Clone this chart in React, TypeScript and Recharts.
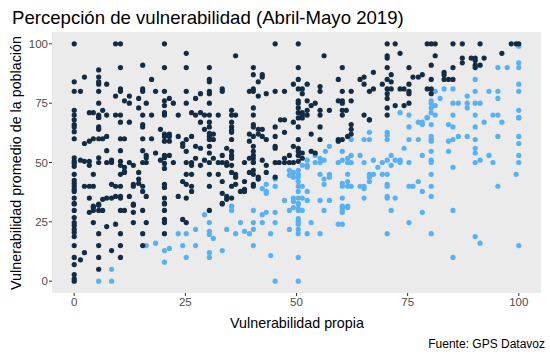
import { ScatterChart, Scatter, XAxis, YAxis } from 'recharts';

type Pt = [number, number];

// puntos donde la percepcion de la poblacion >= propia (azul oscuro)
const above: Pt[] = [
  [0,100],[9.3,100],[10.4,100],[20.3,100],[10.4,90],[15.4,91],[20.3,90],[5.5,89],[2.3,86],[5.5,86],[5.5,84],[5.5,83],[7.3,83],[0,84],[17.4,85],[0,80],[1.4,80],[5.5,80],[10.4,81],[10.4,80],[15.4,81],[15.4,80],[18.3,80],[20.3,80],[9.3,78],[12.4,78],[11.3,76],[12.4,75],[14.5,77],[16.2,75],[21.4,77],[22.3,75],[20.3,76],[20.3,74],[5.5,75],[14.5,73],[6.4,72],[0,72],[0,70],[3.4,71],[4.3,71],[5.5,70],[5.5,69],[7.3,70],[9.3,70],[10.4,70],[15.4,70],[17.4,70],[20.3,71],[20.3,70],
  [45.2,100],[25.2,96],[36.3,95],[25.2,90],[30.4,90],[40.3,90],[40.3,87],[42.3,87],[42.3,86],[30.4,85],[30.4,84],[41.4,84],[49.3,83],[25.2,80],[28.4,79],[30.4,80],[30.4,79],[33.3,81],[33.3,80],[39.4,80],[40.3,81],[40.3,80],[43.2,79],[41.4,78],[45.2,80],[47.3,80],[27.3,77],[25.2,75],[30.4,75],[35.4,72],[40.3,73],[23.4,70],[26.4,71],[27.3,70],[28.4,71],[29.3,70],[30.4,70],[32.4,70],[35.4,70],[36.3,70],[40.3,70],[46.4,68],
  [50.4,100],[70.4,100],[72.2,100],[73.3,96],[56.2,95],[70.4,95],[70.4,94],[50.4,90],[60.3,90],[70.4,90],[75.3,90],[67.3,88],[50.4,85],[59.4,85],[64.3,85],[65.2,86],[71.3,87],[70.4,85],[71.3,84],[76.2,86],[65.2,83],[69.3,83],[75.3,83],[52.4,83],[50.4,81],[51.3,81],[51.3,79],[55.3,82],[55.3,80],[60.3,80],[62.3,80],[66.4,80],[67.3,81],[70.4,81],[70.4,79],[70.4,77],[71.3,81],[73.3,81],[74.2,81],[75.3,80],[75.3,79],[50.4,76],[50.4,75],[52.4,76],[53.3,74],[54.2,75],[59.4,76],[60.3,76],[60.3,75],[62.3,76],[72.2,74],[74.2,74],[75.3,75],[50.4,73],[50.4,71],[51.3,71],[51.3,70],[52.4,72],[52.4,70],[55.3,72],[55.3,70],[57.4,72],[60.3,72],[61.2,72],[60.3,70],[65.2,70],[66.4,68],[70.4,73],[70.4,70],
  [79.4,100],[80.3,100],[81.2,100],[85.2,100],[87.3,100],[91.3,100],[98.3,100],[99.4,100],[100,100],[81.2,95],[96.2,96],[87.3,94],[87.3,92],[89.3,94],[90.2,94],[90.2,93],[92.2,94],[90.2,91],[90.2,90],[91.3,91],[80.3,91],[85.2,90],[77.4,86],[78.3,87],[83.2,88],[83.2,87],[80.3,85],[83.2,85],[84.2,85],[85.2,85],[79.4,81],[80.3,81],[80.3,79],
  [0,68],[0,66],[0,65],[0,63],[0,60],[5.5,69],[5.5,65],[5.5,64],[10.4,67],[12.4,67],[15.4,66],[15.4,65],[19.4,64],[20.3,62],[21.4,62],[20.3,61],[21.4,61],[20.3,59],[21.4,59],[2.3,58],[3.4,59],[4.3,60],[5.5,60],[6.4,60],[7.3,61],[10.4,60],[11.3,60],[15.4,60],[17.4,60],[7.3,55],[10.4,55],[15.4,55],[18.3,54],[0,52],[0,50.5],[0,49.6],[0,48.4],[1.4,51],[2.3,50.5],[3.4,50.5],[3.4,48.8],[5.5,52],[5.5,50],[7.3,50],[8.4,51],[8.4,50],[10.4,50.5],[10.4,48.8],[11.3,48],[11.3,46.3],[12.4,50],[13.3,48.8],[15.4,50],[16.2,50],[16.2,53],[16.2,52],[19.4,51],[20.3,53],[21.4,53],[20.3,52],[20.3,49.6],[20.3,47.5],[22.3,50],[0,45],[0,42.5],[0,41.2],[0,40],[0,38.7],[0,37.8],[4.3,45],[10.4,45],[11.3,45.8],[14.5,45.8],[14.5,43],[14.5,41.2],[15.4,40],[15.4,37.8],[13.3,40],[13.3,40.8],[16.2,35.7],[2.3,40],[3.4,40],[4.3,40],[8.4,40.8],[9.3,40],[10.4,40],[20.3,40.8],[20.3,39.5],[3.4,35],[6.4,34.5],[7.3,35],[8.4,35],[9.3,35.7],[10.4,35.7],[10.4,35],[12.4,35.7],[13.3,32],[5.5,32],[4.3,31.6],[0,35],[0,32.8],[20.3,35],[20.3,32.8],
  [28.4,67],[30.4,67],[30.4,65],[35.4,67],[35.4,65],[35.4,63.6],[35.4,62.7],[40.3,66],[40.3,65],[29.3,64],[45.2,65],[47.3,68],[49.3,67],[23.4,61],[26.4,61],[30.4,62.3],[30.4,61],[31.3,62],[30.4,59.7],[31.3,59.7],[35.4,59.7],[39.4,62],[40.3,61],[39.4,59],[41.4,62],[42.3,64],[42.3,61],[43.2,59.7],[41.4,64],[45.2,61],[47.3,62.7],[24.4,58],[24.4,56.8],[25.2,59.7],[25.2,54.7],[27.3,56.8],[28.4,56],[30.4,56.8],[30.4,54],[33.3,53],[34.3,56],[35.4,54.7],[35.4,53],[35.4,51.8],[40.3,56.8],[40.3,54.7],[40.3,53],[40.3,51.8],[40.3,50],[45.2,56.8],[45.2,56],[49.3,56.8],[48.4,53],[27.3,51.8],[25.2,50],[26.4,50],[26.4,48.8],[28.4,48.8],[29.3,51],[30.4,50],[31.3,51.8],[32.4,50],[33.3,50],[34.3,50],[34.3,48.8],[35.4,48.8],[38.3,50],[39.4,51.8],[40.3,50.1],[42.3,51],[43.2,48.8],[45.2,50],[46.1,50],[47.3,50],[47.3,51.8],[48.4,50],[49.3,50],[25.2,45],[26.4,45],[30.4,45],[32.4,45],[35.4,45.8],[36.3,45],[36.3,43.8],[39.4,45.8],[40.3,46.7],[40.3,45],[41.4,43.8],[41.4,43],[43.2,45.8],[45.2,43.8],[24.4,42],[25.2,40.8],[26.4,40],[26.4,37.8],[33.3,42],[30.4,40],[35.4,40],[36.3,40.8],[38.3,42],[37.4,37.8],[38.3,38.7],[38.3,37.8],[40.3,40.8],[40.3,40],[33.3,37],[34.3,35.7],[34.3,34.5],[35.4,35],[33.3,32.8],[23.4,35.7],[25.2,35],
  [50.4,68.8],[51.3,68.8],[50.4,65],[55.3,65],[62.3,66],[62.3,64],[66.4,68],[53.3,62],[50.4,59.7],[55.3,59.7],[59.4,59.7],[59.4,59],[60.3,59.7],[61.5,61],[62.3,62],[50.4,56],[50.4,54.7],[51.3,54],[50.4,53],[51.3,51.8],[50.4,50.5],[53.3,54.7],[54.2,54],
  [0,32.5],[0,29.8],[0,26.8],[0,24.7],[0,23.5],[0,21.8],[0,20.5],[0,18.8],[4.3,31],[3.4,29],[5.5,32.5],[5.5,29.8],[6.4,29.8],[4.3,29.8],[10.4,29.8],[11.3,29.8],[13.3,32.5],[13.3,29],[15.4,29.8],[20.3,32.5],[20.3,29.8],[4.3,24.7],[7.3,23],[9.3,24],[13.3,24.7],[16.2,24.7],[20.3,26],[20.3,24.7],[5.5,20],[10.4,20],[15.4,20],[20.3,20],[0,15],[5.5,15],[10.4,15],[15.4,15],[8.4,12.9],[2.3,12],[0,10],[1.4,9],[5.5,10],[10.4,10],[0,7],[5.5,5],[0,2.8],[0,1],[0,0],
  [30.4,29.8],[33.3,32.5],[24.4,26],[25.2,24.7],
];

// puntos donde la percepcion de la poblacion < propia (celeste)
const below: Pt[] = [
  [73.3,71],[75.3,70],
  [100,99],[100,92],[100,90],[95.3,90],[97.4,90],[90.2,85],[100,83],[100,80],[81.2,80],[83.2,81],[85.2,81],[90.2,80],[93.3,80],[95.3,80],[88.4,78],[95.3,77],[82.3,77],[80.3,76],[80.3,75],[81.2,74],[80.3,73],[80.3,71],[81.2,70],[79.4,69],[85.2,75],[86.4,75],[88.4,75],[88.4,73],[90.2,75],[91.3,75],[100,72],[85.2,70],[90.2,70],[94.2,70],[95.3,70],[100,69],
  [48.4,46.7],[49.3,45.8],[48.4,44.6],[49.3,43.8],[45.2,43],[43.2,40.8],[42.3,39],[43.2,37.8],[43.2,37],[45.2,40],[47.3,34],[49.3,35],[49.3,33.6],[35.4,31.6],
  [62.3,59.7],[65.2,59.7],[66.4,59.7],[66.4,62.7],[70.4,62.7],[70.4,61.5],[70.4,59.7],[75.3,65],[75.3,59.7],[74.2,56],[57.4,56.8],[56.5,54.7],[60.3,54.7],[54.2,53],[55.3,51.8],[56.2,51],[55.3,50],[54.2,50],[52.4,51],[52.4,48.8],[51.3,48.8],[52.4,48],[59.4,50],[60.3,51],[61.5,51.8],[62.3,53],[62.3,50],[61.5,50],[64.3,53],[65.2,50],[67.3,51],[69.3,50],[70.4,51],[71.3,53],[71.3,48.8],[72.2,51],[73.3,51],[73.3,50],[68.3,48],[75.3,50],[50.4,46.7],[50.4,45],[50.4,43.8],[50.4,42],[50.4,40],[51.3,40],[50.4,37.8],[50.4,35],[51.3,35],[50.4,32.8],[55.3,45],[56.2,43],[56.2,40.8],[57.4,45],[57.4,43.8],[60.3,41.2],[60.3,40],[61.5,42],[61.5,40],[62.3,40],[61.5,45],[66.4,45],[67.3,45],[66.4,43.8],[66.4,42],[64.3,40],[65.2,40],[65.2,39],[69.3,45],[70.4,45],[70.4,40.8],[70.4,40],[75.3,40],[76.2,40],[52.4,37.8],[52.4,34],[55.3,34],[57.4,34],[60.3,35],[65.2,35],[70.4,35.7],[70.4,35],[72.2,35],[60.3,31.6],[61.5,31.6],
  [79.4,68.8],[77.4,67],[78.3,67],[78.3,66],[80.3,66],[84.2,66],[85.2,65],[90.2,65],[92.2,67],[96.2,67],[100,68.8],[77.4,59.7],[80.3,61],[80.3,59.7],[80.3,59],[84.2,59],[85.2,59.7],[86.4,61],[88.4,61],[90.2,59.7],[95.3,61],[100,61],[100,58],[78.3,53],[80.3,54.7],[84.2,54.7],[90.2,56],[90.2,54],[91.3,51],[90.2,50],[93.3,53],[94.2,50],[100,53],[100,50],[80.3,51],[80.3,50],[85.2,48],[80.3,45],[99.4,45],[77.4,42],[78.3,37.8],[80.3,40],[95.3,40],[80.3,35.7],
  [16.2,15],[18.3,16],[20.3,12.9],[21.4,13.8],[20.3,8],[8.4,5],[5.5,0],[8.4,0],
  [35.4,31.5],[35.4,29.8],[40.3,29.8],[42.3,28],[43.2,29],[45.2,29],[48.4,29.8],[49.3,31],[29.3,28],[30.4,24.7],[37.4,24.7],[40.3,24.7],[42.3,24.7],[45.2,24.7],[23.4,20],[25.2,20],[27.3,21.8],[30.4,21],[30.4,19.7],[31.3,18],[34.3,21.8],[36.3,20],[38.3,21],[39.4,20],[40.3,21.8],[44.2,20],[48.4,21.8],[24.4,15],[27.3,15],[33.3,12.9],[40.3,15],[30.4,12],[30.4,10],[25.2,10],[44.2,10.8],[45.2,0],
  [50.4,32.5],[50.4,30.7],[51.3,29.8],[50.4,29.8],[56.2,29.8],[60.3,31],[60.3,29.8],[60.3,29],[61.5,31],[71.3,29.8],[50.4,26.4],[50.4,25.2],[50.4,24],[50.4,21.8],[50.4,20],[53.3,24.7],[59.4,24],[60.3,24],[75.3,24.7],[52.4,20],[55.3,20],[70.4,20],[50.4,10],[50.4,0],
  [78.3,29],[85.2,29.8],[80.3,20],[90.2,18.8],[91.3,16],[100,15],[85.2,10],
];

const ticks = [0, 25, 50, 75, 100];

const toRows = (pts: Pt[]) => pts.map(([x, y]) => ({ x, y }));

const FONT = '"Liberation Sans", Arial, sans-serif';

const dot = (fill: string) => (p: any) => <circle cx={p.cx} cy={p.cy} r={2.6} fill={fill} />;

export default function App() {
  return (
    <div style={{ position: 'absolute', left: 0, top: 0, width: 550, height: 357, background: '#fff', fontFamily: FONT }}>
      <ScatterChart width={550} height={357} margin={{ top: 32, right: 9, bottom: 44, left: 32 }}>
        <rect x={52} y={32} width={489} height={261} fill="#EBEBEB" />
        <XAxis
          type="number"
          dataKey="x"
          domain={[-5, 105]}
          ticks={ticks}
          height={20}
          axisLine={false}
          tickSize={3}
          tickLine={{ stroke: '#333333' }}
          tick={{ fill: '#4D4D4D', fontSize: 11.5, fontFamily: FONT }}
          allowDataOverflow
        />
        <YAxis
          type="number"
          dataKey="y"
          domain={[-5, 105]}
          ticks={ticks}
          width={20}
          axisLine={false}
          tickSize={3}
          tickMargin={1}
          tickLine={{ stroke: '#333333' }}
          tick={{ fill: '#4D4D4D', fontSize: 11.5, fontFamily: FONT }}
          allowDataOverflow
        />
        <Scatter data={toRows(below)} shape={dot('#56B1F7')} isAnimationActive={false} />
        <Scatter data={toRows(above)} shape={dot('#132B43')} isAnimationActive={false} />
      </ScatterChart>
      <svg width={550} height={357} style={{ position: 'absolute', left: 0, top: 0, pointerEvents: 'none' }}>
        <text x={12} y={24} fontSize={18.6} fill="#000" fontFamily={FONT}>
          Percepción de vulnerabilidad (Abril-Mayo 2019)
        </text>
        <text x={21} y={163} fontSize={14.3} fill="#000" fontFamily={FONT} textAnchor="middle" transform="rotate(-90 21 163)">
          Vulnerabilidad promedio de la población
        </text>
        <text x={297} y={328} fontSize={14.3} fill="#000" fontFamily={FONT} textAnchor="middle">
          Vulnerabilidad propia
        </text>
        <text x={545} y={348} fontSize={12} fill="#000" fontFamily={FONT} textAnchor="end">
          Fuente: GPS Datavoz
        </text>
      </svg>
    </div>
  );
}
